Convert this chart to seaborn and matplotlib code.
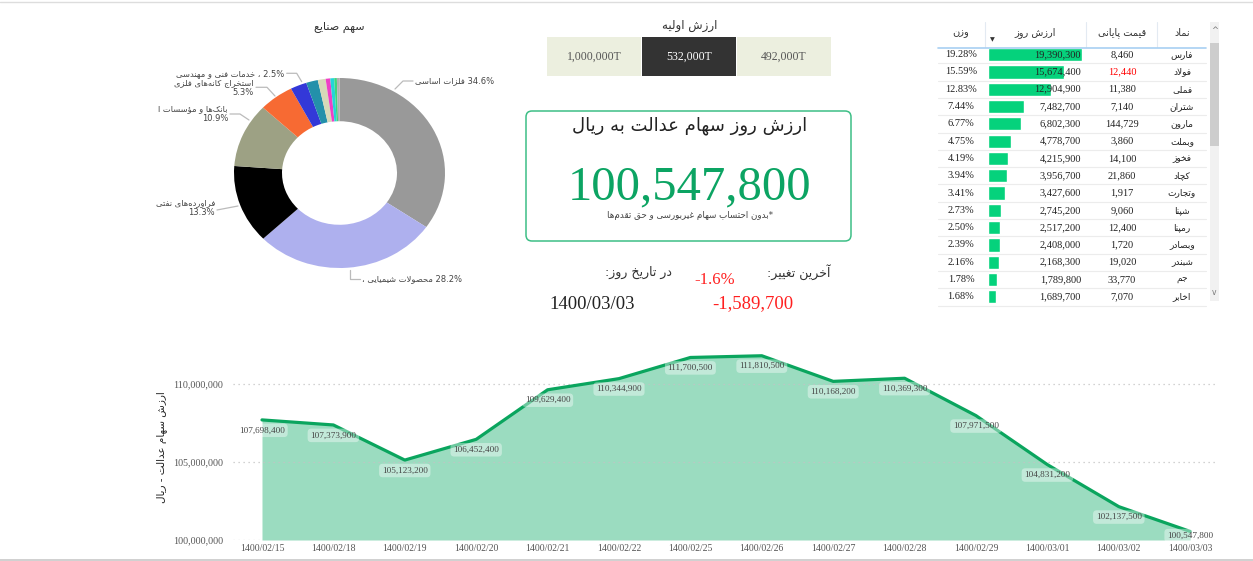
import numpy as np
import pandas as pd
import matplotlib
matplotlib.use('Agg')
import matplotlib.pyplot as plt
import seaborn as sns
from matplotlib.patches import Rectangle, FancyBboxPatch

# ---- data ----
sector_names = ['فلزات اساسی', 'محصولات شیمیایی', 'فراورده‌های نفتی', 'بانک‌ها و مؤسسات ا',
                'استخراج کانه‌های فلزی', 'خدمات فنی و مهندسی', '', '', '', '', '', '']
sector_share = [34.6, 28.2, 13.3, 10.9, 5.3, 2.5, 1.8, 1.2, 0.7, 0.6, 0.4, 0.4]
sector_colors = ['#999999', '#AEB0EE', '#000000', '#9DA184', '#F76A33', '#3338D8',
                 '#2390AA', '#D6D9B8', '#EE40C6', '#22D5D8', '#3DD67C', '#B0B0B0']

initial_values = ['1,000,000T', '532,000T', '492,000T']

symbols = ['فارس', 'فولاد', 'فملی', 'شتران', 'مارون', 'وبملت', 'فخوز', 'کچاد',
           'وتجارت', 'شپنا', 'رمپنا', 'وبصادر', 'شبندر', 'جم', 'اخابر']
close_price = ['8,460', '12,440', '11,380', '7,140', '144,729', '3,860', '14,100', '21,860',
               '1,917', '9,060', '12,400', '1,720', '19,020', '33,770', '7,070']
day_value = [19390300, 15674400, 12904900, 7482700, 6802300, 4778700, 4215900, 3956700,
             3427600, 2745200, 2517200, 2408000, 2168300, 1789800, 1689700]
weight = ['19.28%', '15.59%', '12.83%', '7.44%', '6.77%', '4.75%', '4.19%', '3.94%',
          '3.41%', '2.73%', '2.50%', '2.39%', '2.16%', '1.78%', '1.68%']

dates = ['1400/02/15', '1400/02/18', '1400/02/19', '1400/02/20', '1400/02/21', '1400/02/22',
         '1400/02/25', '1400/02/26', '1400/02/27', '1400/02/28', '1400/02/29', '1400/03/01',
         '1400/03/02', '1400/03/03']
daily_total = [107698400, 107373900, 105123200, 106452400, 109629400, 110344900, 111700500,
               111810500, 110168200, 110369300, 107971500, 104831200, 102137500, 100547800]

# ---- minimal persian shaping (matplotlib has no complex text layout) ----
DUAL = dict(zip('بتثجحخسشصضطظعغفقلمنهئپچکگی',
                [0xFE8F, 0xFE95, 0xFE99, 0xFE9D, 0xFEA1, 0xFEA5, 0xFEB1, 0xFEB5, 0xFEB9, 0xFEBD,
                 0xFEC1, 0xFEC5, 0xFEC9, 0xFECD, 0xFED1, 0xFED5, 0xFEDD, 0xFEE1, 0xFEE5, 0xFEE9,
                 0xFE89, 0xFB56, 0xFB7A, 0xFB8E, 0xFB92, 0xFBFC]))
RIGHT = dict(zip('اآدذرزژوؤ', [0xFE8D, 0xFE81, 0xFEA9, 0xFEAB, 0xFEAD, 0xFEAF, 0xFB8A, 0xFEED, 0xFE85]))


def fa(text):
    out = []
    i, n = 0, len(text)
    while i < n:
        c = text[i]
        prev = text[i - 1] if i > 0 else ''
        nxt = text[i + 1] if i + 1 < n else ''
        if c == '\u200c':
            i += 1
            continue
        if c not in DUAL and c not in RIGHT:
            out.append(c)
            i += 1
            continue
        jp = prev in DUAL
        if c == 'ل' and nxt in ('ا', 'آ'):
            base = 0xFEFB if nxt == 'ا' else 0xFEF5
            out.append(chr(base + (1 if jp else 0)))
            i += 2
            continue
        if c in RIGHT:
            out.append(chr(RIGHT[c] + (1 if jp else 0)))
        else:
            jn = nxt in DUAL or nxt in RIGHT
            form = {(False, False): 0, (True, False): 1, (False, True): 2, (True, True): 3}[(jp, jn)]
            out.append(chr(DUAL[c] + form))
        i += 1
    return ''.join(reversed(out))


sns.set_theme(style='white')
plt.rcParams['font.family'] = ['DejaVu Sans']
SERIF = 'Liberation Serif'

W, H = 1253, 561
fig = plt.figure(figsize=(W / 100, H / 100), dpi=100)


def axes_px(x0, y0, x1, y1):
    return fig.add_axes([x0 / W, 1 - y1 / H, (x1 - x0) / W, (y1 - y0) / H])


# ---- donut ----
ax_pie = axes_px(170.7, 30.5, 508.3, 315.5)
ax_pie.pie(sector_share, colors=sector_colors, startangle=90, counterclock=False,
           wedgeprops=dict(width=0.455, edgecolor='none'))
ax_pie.set_aspect('auto')
ax_pie.set_xlim(-1.6, 1.6)
ax_pie.set_ylim(-1.5, 1.5)
ax_pie.set_facecolor('none')
ax_pie.axis('off')

# ---- table bars ----
ax_bar = axes_px(988, 46, 1082, 305.5)
tbl = pd.DataFrame({'symbol': symbols, 'value': day_value})
sns.barplot(data=tbl, x='value', y='symbol', orient='h', color='#05D27C', saturation=1,
            width=0.76, ax=ax_bar)
ax_bar.set_xlim(0, max(day_value))
ax_bar.set_ylim(14.5, -0.5)
ax_bar.set_facecolor('none')
ax_bar.axis('off')

# ---- area chart ----
ax = axes_px(233, 345, 1217, 540)
x_idx = np.arange(len(daily_total))
ax.fill_between(x_idx, daily_total, 100000000, color='#9BDCC0', lw=0, zorder=1)
sns.lineplot(x=x_idx, y=daily_total, ax=ax, color='#0AA55E', linewidth=2.3, zorder=3)
ax.set_xlim(-0.406, 13.375)
ax.set_ylim(100000000, 112500000)
ax.set_yticks([100000000, 105000000, 110000000])
ax.set_yticklabels(['{:,}'.format(v) for v in [100000000, 105000000, 110000000]],
                   family=SERIF, fontsize=7.2, color='#555555')
ax.set_xticks(x_idx)
ax.set_xticklabels(dates, family=SERIF, fontsize=7, color='#555555')
ax.tick_params(axis='y', length=0, pad=7)
ax.tick_params(axis='x', length=0, pad=3)
for v in [100000000, 105000000, 110000000]:
    ax.axhline(v, color='#C4C4C4', lw=0.9, ls=(0, (1, 3)), zorder=2)
for s in ax.spines.values():
    s.set_visible(False)
ax.set_facecolor('none')
for i, v in enumerate(daily_total):
    dy = -3 if i == len(daily_total) - 1 else -7.5
    ax.annotate('{:,}'.format(v), (i, v), xytext=(0, dy), textcoords='offset points',
                ha='center', va='center', family=SERIF, fontsize=6.6, color='#444444', zorder=4,
                bbox=dict(boxstyle='round,pad=0.3,rounding_size=0.4', fc='white', ec='none', alpha=0.4))

# ---- overlay in pixel coordinates ----
bg = fig.add_axes([0, 0, 1, 1], zorder=10)
bg.set_xlim(0, W)
bg.set_ylim(H, 0)
bg.set_facecolor('none')
bg.axis('off')

bg.plot([0, W], [1.5, 1.5], color='#DDDDDD', lw=1)
bg.plot([0, W], [559.5, 559.5], color='#C8C8C8', lw=1.2)

# donut title and labels
bg.text(339, 27, fa('سهم صنایع'), ha='center', va='center', fontsize=8, color='#333333')
lab = dict(fontsize=6, color='#444444', va='center')
leader = dict(color='#BBBBBB', lw=0.9)
bg.plot([395, 403, 413], [89, 81, 81], **leader)
bg.text(415, 81, fa(sector_names[0]) + ' 34.6%', ha='left', **lab)
bg.plot([350, 350, 360], [270, 279, 279], **leader)
bg.text(362, 279, fa('محصولات شیمیایی ،') + ' 28.2%', ha='left', **lab)
bg.plot([238, 217], [206, 210], **leader)
bg.text(215, 203, fa(sector_names[2]), ha='right', **lab)
bg.text(215, 212.5, '13.3%', ha='right', **lab)
bg.plot([230, 240, 249], [114, 114, 120], **leader)
bg.text(228, 109, fa(sector_names[3]), ha='right', **lab)
bg.text(228, 118, '10.9%', ha='right', **lab)
bg.plot([256, 267, 275], [87.3, 87.3, 96], **leader)
bg.text(254, 83, fa(sector_names[4]), ha='right', **lab)
bg.text(254, 92, '5.3%', ha='right', **lab)
bg.plot([286.7, 296.7, 301.7], [73.3, 73.3, 81.7], **leader)
bg.text(284.5, 73.3, fa('، ' + sector_names[5]) + ' 2.5%', ha='right', **lab)

# initial value selector
bg.text(690, 25, fa('ارزش اولیه'), ha='center', va='center', fontsize=8.5, color='#333333')
box_x = [547, 642, 737]
for k, txt in enumerate(initial_values):
    dark = k == 1
    bg.add_patch(Rectangle((box_x[k], 37), 94, 39, fc='#333333' if dark else '#ECEFDF', ec='none'))
    bg.text(box_x[k] + 47, 56.5, txt, ha='center', va='center', family=SERIF, fontsize=8.5,
            color='white' if dark else '#555555')

# KPI card
bg.add_patch(FancyBboxPatch((526, 111), 325, 130, boxstyle='round,pad=0,rounding_size=6',
                            fc='white', ec='#3DBF86', lw=1.1))
bg.text(690, 126, fa('ارزش روز سهام عدالت به ریال'), ha='center', va='center', fontsize=13,
        color='#222222')
bg.text(690, 187, '{:,}'.format(daily_total[-1]), ha='center', va='center', family=SERIF,
        fontsize=35, color='#0CA463')
bg.text(690, 215, fa('*بدون احتساب سهام غیربورسی و حق تقدم‌ها'), ha='center', va='center',
        fontsize=6.3, color='#444444')

change = daily_total[-1] - daily_total[-2]
pct = change / daily_total[-2] * 100
bg.text(830, 272, fa('آخرین تغییر:'), ha='right', va='center', fontsize=9, color='#333333')
bg.text(715, 280, '{:.1f}%'.format(pct), ha='center', va='center', family=SERIF, fontsize=12,
        color='#FF2020')
bg.text(672, 272, fa('در تاریخ روز:'), ha='right', va='center', fontsize=9, color='#333333')
bg.text(592, 304, dates[-1], ha='center', va='center', family=SERIF, fontsize=13.5, color='#222222')
bg.text(753, 304, '{:,}'.format(change), ha='center', va='center', family=SERIF, fontsize=13.5,
        color='#FF2020')

# table header, grid and cells
col_weight, col_value, col_price, col_symbol = 961, 1081, 1122, 1182
bg.text(col_weight, 33, fa('وزن'), ha='center', va='center', fontsize=7, color='#333333')
bg.text(1035, 33, fa('ارزش روز'), ha='center', va='center', fontsize=7, color='#333333')
bg.text(col_price, 33, fa('قیمت پایانی'), ha='center', va='center', fontsize=7, color='#333333')
bg.text(col_symbol, 33, fa('نماد'), ha='center', va='center', fontsize=7, color='#333333')
bg.text(992, 40, '\u25BC', ha='center', va='center', fontsize=4.5, color='#333333')
for xs in [985, 1086, 1157]:
    bg.plot([xs, xs], [22, 47], color='#E3EAF2', lw=0.8)
bg.plot([938, 1206], [47.5, 47.5], color='#A8D0F2', lw=1.2)
row_h = 17.3
for k in range(1, 16):
    yy = 46 + row_h * k
    bg.plot([938, 1206], [yy, yy], color='#ECECEC', lw=0.8)
for k in range(len(symbols)):
    yc = 46 + row_h * (k + 0.5)
    bg.text(col_weight, yc, weight[k], ha='center', va='center', family=SERIF, fontsize=7.5,
            color='#222222')
    bg.text(col_value, yc, '{:,}'.format(day_value[k]), ha='right', va='center', family=SERIF,
            fontsize=7.5, color='#222222')
    bg.text(col_price, yc, close_price[k], ha='center', va='center', family=SERIF, fontsize=7.5,
            color='#FF0000' if k == 1 else '#222222')
    bg.text(col_symbol, yc, fa(symbols[k]), ha='center', va='center', fontsize=6.5,
            color='#222222')

# scrollbar
bg.add_patch(Rectangle((1210, 22), 9, 279, fc='#F1F1F1', ec='none'))
bg.add_patch(Rectangle((1210, 43), 9, 103, fc='#CDCDCD', ec='none'))
bg.text(1214.5, 30, '^', ha='center', va='center', fontsize=6, color='#777777')
bg.text(1214.5, 292, 'v', ha='center', va='center', fontsize=5.5, color='#777777')

# y axis title of the area chart
bg.text(162, 447, fa('ارزش سهام عدالت - ریال'), rotation=90, ha='center', va='center',
        fontsize=7.5, color='#222222')

fig.savefig('out.png', dpi=100)
